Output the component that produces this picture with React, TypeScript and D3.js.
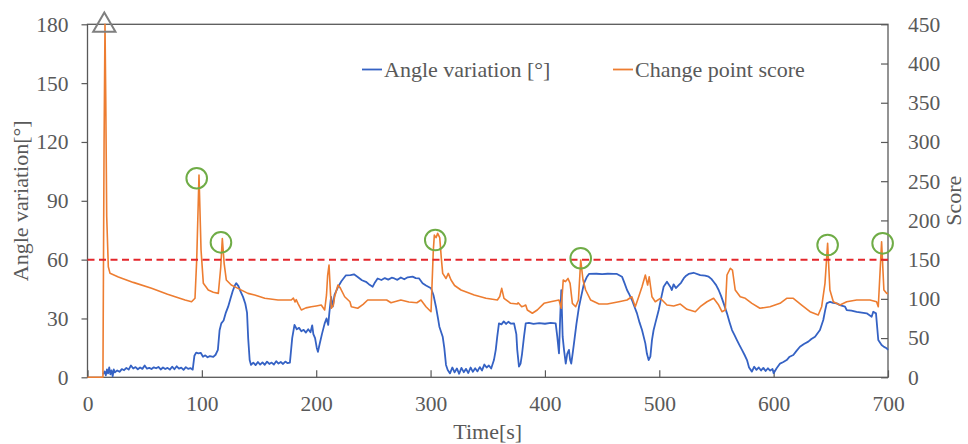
import { useEffect, useRef } from "react"
import * as d3 from "d3"

// time [s], angle variation [deg]
const angleSeries: [number, number][] = [
  [13.6, 1.5], [15, 3], [16, 1], [17, 4], [18, 2], [19, 5], [20, 1.5], [21, 3.5], [22, 0.5], [23, 4], [24, 2.5],
  [26, 3.5], [28, 2.8], [30, 4.2], [32, 3.6], [34, 4.8], [36, 3.9], [38, 6], [40, 4.5], [42, 5.2], [44, 4.1],
  [46, 5], [48, 4.3], [50, 6], [52, 4.4], [54, 4.8], [56, 4.2], [58, 5.1], [60, 4.6], [62, 5.3], [64, 4],
  [66, 5], [68, 4.2], [70, 4.8], [72, 3.9], [74, 5.4], [76, 4.1], [78, 5.6], [80, 4.4], [82, 4.9], [84, 3.8],
  [86, 5.2], [88, 4.3], [90, 4.7], [92, 3.9], [93.5, 11], [95, 12.6], [97, 12.2], [99, 12.5], [101, 10.5],
  [103, 11.2], [105, 10.2], [107, 10.8], [110, 10.4], [112, 11.5], [114, 14], [115.5, 24], [117, 27.5],
  [119, 29], [121, 33], [123, 36], [125, 40], [127, 44], [129, 47], [130, 48], [132, 46.5], [134, 43.5],
  [136, 41], [138, 37.5], [139.5, 33], [140.5, 20], [141.8, 8.8], [143, 6.3], [145, 7.5], [147, 6.2],
  [149, 7.8], [151, 6.5], [153, 7.6], [155, 6.4], [157, 8], [159, 6.8], [161, 7.5], [163, 6.5], [165, 8.2],
  [167, 7], [169, 7.8], [171, 6.8], [173, 8], [175, 7.2], [177, 7.5], [179, 20], [181, 26.7], [183, 24.5],
  [185, 25.2], [187, 23.5], [189, 24.2], [191, 22.8], [193, 24.5], [195, 23], [196.5, 26.5], [197.5, 22],
  [199, 20], [200.5, 15], [201.5, 13], [203, 17], [205, 22], [207.4, 27.5], [209, 30], [210.5, 26.7],
  [211.5, 33], [213, 41], [214.5, 36], [216, 42], [219, 46], [222, 49], [226, 52], [230, 52.1], [233, 52.5],
  [236, 51.3], [240, 49.5], [243.5, 48.7], [246, 47.5], [249.4, 46.2], [251.5, 48.5], [253.7, 50.4],
  [257, 49.6], [260, 50.6], [263, 49.8], [266, 50.8], [268.3, 50.4], [271, 49.7], [274, 50.9], [277, 50],
  [280, 51], [284.3, 51.3], [287, 50.6], [290, 50.4], [293, 48], [296, 46.8], [300.4, 45.4], [302.5, 42],
  [304.7, 36], [306.5, 30], [307.7, 25.8], [310.6, 20.7], [312, 15], [313.5, 6.3], [315, 3.7], [317, 2],
  [319, 5], [321, 2.5], [323, 4.5], [325, 1.8], [327, 4.8], [329, 2.6], [331, 4.3], [333, 2.2], [335, 5],
  [337, 2.8], [339, 4.6], [341, 3], [343, 5.2], [345, 3.5], [347, 6.5], [349, 5], [351, 6], [353, 4.5],
  [355.4, 8.8], [357, 14], [358.3, 20.7], [359.8, 27.5], [362, 27], [364, 28.5], [366, 27.2], [368, 28.3],
  [370, 27.4], [373, 27.5], [375, 22], [375.8, 14], [377.3, 5.4], [378.7, 7], [380, 12], [381.7, 20.7],
  [383.2, 27.5], [386, 27.8], [390, 27.2], [395, 27.6], [400, 27.3], [405, 27.8], [409.4, 27.5],
  [410.8, 20.7], [412.3, 12.2], [413.3, 30], [414.3, 44.5], [415.5, 20.7], [416.7, 14], [418.2, 7],
  [419.5, 12], [421, 14], [422, 9], [423, 7], [424.2, 12], [425.4, 17.3], [427.5, 27], [429.8, 36],
  [432, 42], [434.2, 48], [436.5, 51], [438.5, 52.7], [445, 52.8], [450, 52.6], [455, 52.8], [460, 52.7],
  [463, 52.7], [467.4, 51.3], [469.6, 48], [471.8, 44.5], [474, 42], [476.1, 39.4], [478.3, 36],
  [480.5, 32.6], [482.7, 28], [484.9, 24.1], [487.8, 17.3], [489.2, 12], [490.7, 8.8], [492.2, 10.5],
  [493.6, 19], [495, 24], [496.5, 27.5], [499.5, 34.3], [501.5, 40], [503.8, 46.2], [506.7, 48.7],
  [509.6, 46.2], [511, 44.5], [512.5, 47.4], [514.5, 45.5], [517, 47], [519, 48.2], [521.3, 50.4],
  [523.5, 51.8], [525.7, 52.7], [530, 53.3], [535.8, 52.1], [540, 51.8], [543.2, 51.3], [545.5, 50.2],
  [547.5, 48.7], [549.7, 47], [551.9, 44.5], [554, 41.5], [556.3, 37.7], [559.2, 32.6], [561.5, 28],
  [563.6, 24.1], [565.8, 21.5], [567.9, 19], [570, 16.5], [572.3, 14], [574.5, 11.5], [576.7, 8.8],
  [578.5, 5], [581, 2.9], [583, 5.4], [585, 3.8], [587, 5], [589, 3.5], [591, 4.8], [593, 3.2], [595, 4.6],
  [597, 3.4], [599, 4.2], [600, 2.1], [602.6, 4.6], [605.6, 7], [608.5, 7.8], [611.4, 8.8], [614, 10.5],
  [617.2, 11.4], [620, 13.5], [623, 15.6], [626.5, 17], [630.3, 18.2], [633, 19.5], [636.2, 20.7],
  [640.5, 24.1], [643.4, 29.2], [645, 34], [646.4, 37.7], [649.3, 38.5], [652, 38], [655.1, 37.7],
  [658, 36.8], [662.4, 36], [663.9, 34.3], [668, 34], [672.6, 33.4], [677, 33], [681.4, 32.6],
  [685.7, 30.9], [687.1, 33.4], [689.5, 32.6], [691.5, 19], [694.4, 16.5], [696.5, 15.5], [698.8, 14.8],
  [700, 14],
]

// time [s], change point score
const scoreSeries: [number, number][] = [
  [0, 0], [13.5, 0], [14.5, 300], [15.3, 450], [16, 350], [16.8, 205], [18.2, 141], [19.7, 132.5], [27, 128],
  [40, 121], [56, 113.4], [70, 106], [85.3, 98.5], [91, 96.3], [94, 100.7], [95.5, 150], [97.5, 257.8],
  [99.3, 162], [101.3, 119.8], [105.6, 111.3], [110, 108.5], [114.4, 107], [116.5, 140], [117.9, 177],
  [119.5, 145], [121.4, 124], [125.7, 117.6], [131.6, 113.4], [140.3, 107], [146.2, 104.9], [155, 100.7],
  [166.6, 98.5], [178.2, 98.5], [180, 101], [181.5, 96], [182.5, 99], [184, 94.3], [187, 85.8], [191, 88.5],
  [195.7, 90], [200, 91], [204.4, 92.1], [207.4, 85.8], [209, 105], [210, 130], [211.2, 143], [212.2, 115],
  [213.2, 88], [215, 92], [216.1, 102.7], [219, 117.6], [221, 114], [224.9, 102.7], [229.5, 96.3],
  [230.7, 90], [236.3, 88], [241, 93], [245, 98.5], [254, 98.5], [261.6, 98.5], [265.4, 95], [274, 98.5],
  [281, 96], [288, 95], [291.6, 98.5], [296, 90], [300.4, 83.6], [302.4, 162], [303.3, 181.3], [304.8, 178],
  [306.2, 183.5], [308, 178], [309.5, 150], [310.6, 132.5], [313.5, 126], [315.5, 132.5], [317.9, 124],
  [321, 117], [326.6, 111.3], [338.2, 104.9], [348.5, 100.7], [358.4, 98.5], [360.5, 103], [362.2, 113.4],
  [364.2, 100.7], [370, 94.3], [375.8, 93.4], [376.6, 95], [379.7, 90], [381.5, 91], [383.2, 92.1],
  [384.6, 85.8], [389, 81.6], [393.3, 85.8], [399.2, 94.3], [405, 96.3], [412.3, 98.5], [414.3, 88],
  [416, 124], [418, 122], [420.2, 126], [422, 119.8], [424, 94.3], [426.9, 90], [429.3, 98.5],
  [431.3, 149.5], [433.3, 124], [435.6, 111.3], [440, 98.5], [447.3, 93.4], [454.5, 93.4], [464.7, 96.3],
  [471.8, 98.5], [476, 102.7], [479, 90], [482, 102.7], [484.9, 115.5], [487.8, 130.4], [489.8, 117.6],
  [491.2, 128.2], [493.6, 102.7], [496.5, 96.3], [500.9, 100.7], [506.7, 92.1], [512.6, 90.9],
  [518.4, 93.4], [524.2, 86.7], [531.5, 83.6], [535.8, 90], [541.7, 96.3], [547.5, 100.7], [551.9, 92.1],
  [554.8, 83.6], [557.7, 85.8], [559.2, 130.4], [562.1, 138.9], [564, 136.7], [566.4, 111.3],
  [570.8, 102.7], [575.2, 100.7], [581, 94.3], [588, 88], [596.8, 90], [605.6, 94.3], [611.4, 100.7],
  [617.2, 100.7], [624.5, 92.1], [631.8, 83.6], [639, 79.4], [642, 90], [644.9, 119.8], [647.2, 170.8],
  [649.2, 111.3], [652.2, 96.3], [658, 92.1], [663.9, 96.3], [672.6, 98.5], [684.2, 98.5], [690, 96.3],
  [691.5, 90], [694.4, 172.8], [696.4, 111.3], [698.8, 107], [700, 107],
]

// detected change points (time, angle axis value)
const changePoints: [number, number][] = [
  [95.5, 101.5], [116.7, 68.8], [304.1, 70], [431.3, 60.7], [647.2, 67.5], [695.3, 68.3],
]
const startMarker: [number, number] = [14.7, 180]
const threshold = 60

const xTicks = [0, 100, 200, 300, 400, 500, 600, 700]
const yTicks = [0, 30, 60, 90, 120, 150, 180]
const y2Ticks = [0, 50, 100, 150, 200, 250, 300, 350, 400, 450]

const W = 968
const H = 444
const FONT = "Liberation Serif, Times New Roman, serif"
const TEXT = "#595959"

const App = () => {
  const svgRef = useRef<SVGSVGElement>(null)

  useEffect(() => {
    const margin = { top: 24.3, right: 80, bottom: 66.7, left: 87.5 }
    const width = W - margin.left - margin.right
    const height = H - margin.top - margin.bottom

    const svg = d3.select(svgRef.current)
    svg.selectAll("*").remove()
    const g = svg.append("g").attr("transform", `translate(${margin.left},${margin.top})`)

    const x = d3.scaleLinear().domain([0, 700]).range([0, width])
    const y = d3.scaleLinear().domain([0, 180]).range([height, 0])
    const y2 = d3.scaleLinear().domain([0, 450]).range([height, 0])

    // left axis, ticks outside
    const left = g.append("g").call(d3.axisLeft(y).tickValues(yTicks).tickSize(6).tickPadding(13))
    // bottom axis, ticks inside
    const bottom = g.append("g").attr("transform", `translate(0,${height})`)
      .call(d3.axisBottom(x).tickValues(xTicks).tickSize(-7).tickSizeOuter(0))
    // right axis, ticks inside
    const right = g.append("g").attr("transform", `translate(${width},0)`)
      .call(d3.axisRight(y2).tickValues(y2Ticks).tickSize(-7).tickPadding(20).tickSizeOuter(0))

    ;[left, bottom, right].forEach(a => {
      a.attr("font-family", FONT).attr("font-size", 21.5)
      a.select(".domain").remove()
      a.selectAll("line").attr("stroke", TEXT).attr("stroke-width", 1.2)
      a.selectAll("text").attr("fill", TEXT)
    })
    bottom.selectAll("text").attr("y", 34).attr("dy", 0)

    g.append("rect")
      .attr("width", width).attr("height", height)
      .attr("fill", "none").attr("stroke", TEXT).attr("stroke-width", 1.3)

    const line = d3.line<[number, number]>().x(d => x(d[0]))

    g.append("path")
      .datum(angleSeries)
      .attr("fill", "none")
      .attr("stroke", "#3562C4")
      .attr("stroke-width", 1.8)
      .attr("stroke-linejoin", "round")
      .attr("d", line.y(d => y(d[1])))

    g.append("path")
      .datum(scoreSeries)
      .attr("fill", "none")
      .attr("stroke", "#ED7D31")
      .attr("stroke-width", 1.6)
      .attr("stroke-linejoin", "round")
      .attr("d", line.y(d => y2(d[1])))

    // threshold
    g.append("line")
      .attr("x1", 0).attr("x2", width)
      .attr("y1", y(threshold)).attr("y2", y(threshold))
      .attr("stroke", "#E3262B").attr("stroke-width", 2).attr("stroke-dasharray", "7,4.5")

    g.selectAll(".cp")
      .data(changePoints)
      .enter()
      .append("circle")
      .attr("cx", d => x(d[0])).attr("cy", d => y(d[1]))
      .attr("r", 10.3)
      .attr("fill", "none").attr("stroke", "#6FAC46").attr("stroke-width", 2)

    g.append("path")
      .attr("d", d3.symbol(d3.symbolTriangle, 215)())
      .attr("transform", `translate(${x(startMarker[0])},${y(startMarker[1]) + 1})`)
      .attr("fill", "none").attr("stroke", "#7F7F7F").attr("stroke-width", 2)

    // legend
    const legend = [
      { label: "Angle variation [°]", color: "#3562C4", x: 362 },
      { label: "Change point score", color: "#ED7D31", x: 613 },
    ]
    const lg = svg.append("g")
    legend.forEach(l => {
      lg.append("line").attr("x1", l.x).attr("x2", l.x + 20).attr("y1", 69.5).attr("y2", 69.5)
        .attr("stroke", l.color).attr("stroke-width", 1.8)
      lg.append("text").attr("x", l.x + 22).attr("y", 77).text(l.label).attr("fill", TEXT)
    })

    // axis titles
    svg.append("text")
      .attr("transform", `translate(28,${margin.top + height / 2}) rotate(-90)`)
      .attr("text-anchor", "middle").text("Angle variation[°]").attr("fill", TEXT)
    svg.append("text")
      .attr("transform", `translate(961,${margin.top + height / 2}) rotate(-90)`)
      .attr("text-anchor", "middle").text("Score").attr("fill", TEXT)
    svg.append("text")
      .attr("x", margin.left + width / 2).attr("y", 439)
      .attr("text-anchor", "middle").text("Time[s]").attr("fill", TEXT)
  }, [])

  return (
    <svg ref={svgRef} width={W} height={H} fontFamily={FONT} fontSize={22}
      style={{ position: "absolute", left: 0, top: 0, background: "#fff" }} />
  )
}

export default App
